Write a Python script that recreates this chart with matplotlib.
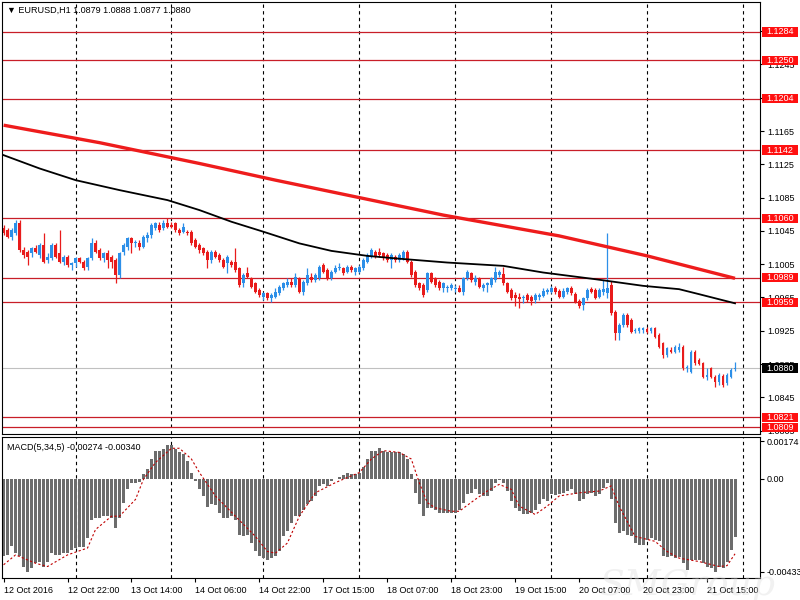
import numpy as np
import matplotlib
matplotlib.use('Agg')
import matplotlib.pyplot as plt
from matplotlib.patches import Rectangle

plt.rcParams['font.family'] = ['Liberation Sans', 'DejaVu Sans']
plt.rcParams['font.size'] = 6.5

# EURUSD H1 candles, bar 0 = 12 Oct 2016 06:00
opens = [
    1.1049, 1.1046, 1.1038, 1.1042, 1.1054, 1.1022, 1.1020, 1.1018, 1.1024, 1.1016,
    1.1028, 1.1010, 1.1012, 1.1028, 1.1018, 1.1008, 1.1014, 1.1004, 1.1006, 1.1012,
    1.1008, 1.1002, 1.1012, 1.1030, 1.1022, 1.1012, 1.1018, 1.1014, 1.1010, 1.0992,
    1.1020, 1.1026, 1.1036, 1.1030, 1.1030, 1.1026, 1.1036,
    1.1040, 1.1048, 1.1052, 1.1048, 1.1054, 1.1052, 1.1054, 1.1046, 1.1044, 1.1044,
    1.1044, 1.1034, 1.1028, 1.1024, 1.1020, 1.1010, 1.1020, 1.1016, 1.1010, 1.1006,
    1.1008, 1.1008, 1.1000, 1.0982, 1.0994, 1.0988, 1.0982, 1.0974, 1.0966, 1.0970,
    1.0964, 1.0966, 1.0970, 1.0976, 1.0980, 1.0984, 1.0980,
    1.0988, 1.0972, 1.0982, 1.0990, 1.0986, 1.0988, 1.1004, 1.0998, 1.0988, 1.0996,
    1.1000, 1.1000, 1.0996, 1.1002, 1.0996, 1.0996, 1.1000, 1.1008, 1.1014, 1.1020,
    1.1020, 1.1018, 1.1016, 1.1010, 1.1014, 1.1010, 1.1012, 1.1020, 1.1008, 1.0996,
    1.0982, 1.0980, 1.0974, 1.0994, 1.0988, 1.0984, 1.0976,
    1.0976, 1.0976, 1.0975, 1.0977, 1.0972, 1.0988, 1.0994, 1.0984, 1.0988, 1.0977,
    1.0980, 1.0980, 1.0986, 1.0992, 1.0993, 1.0982, 1.0974, 1.0968, 1.0966, 1.0964,
    1.0968, 1.0966, 1.0962, 1.0966, 1.0967, 1.0971, 1.0972, 1.0977, 1.0973, 1.0966,
    1.0971, 1.0977, 1.0969, 1.0961, 1.0956, 1.0964, 1.0975,
    1.0974, 1.0966, 1.0972, 1.0970, 1.0980, 1.0948, 1.0922, 1.0932, 1.0944, 1.0938,
    1.0925, 1.0925, 1.0926, 1.0927, 1.0925, 1.0928, 1.0920, 1.0910, 1.0896, 1.0902,
    1.0900, 1.0902, 1.0906, 1.0880, 1.0876, 1.0900, 1.0890, 1.0886, 1.0869, 1.0880,
    1.0870, 1.0863, 1.0871, 1.0862, 1.0870, 1.0879,
]
highs = [
    1.1052, 1.1048, 1.1048, 1.1058, 1.1058, 1.1026, 1.1022, 1.1026, 1.1028, 1.1030,
    1.1042, 1.1018, 1.1030, 1.1030, 1.1046, 1.1016, 1.1016, 1.1008, 1.1014, 1.1014,
    1.1010, 1.1014, 1.1036, 1.1034, 1.1024, 1.1020, 1.1022, 1.1016, 1.1012, 1.1020,
    1.1030, 1.1038, 1.1038, 1.1034, 1.1034, 1.1040, 1.1044,
    1.1054, 1.1056, 1.1056, 1.1058, 1.1060, 1.1056, 1.1056, 1.1048, 1.1054, 1.1046,
    1.1046, 1.1036, 1.1030, 1.1026, 1.1022, 1.1022, 1.1022, 1.1018, 1.1012, 1.1016,
    1.1010, 1.1024, 1.1002, 1.0994, 1.1002, 1.0990, 1.0984, 1.0976, 1.0972, 1.0972,
    1.0970, 1.0976, 1.0980, 1.0984, 1.0988, 1.0988, 1.0994,
    1.0990, 1.0986, 1.1000, 1.0994, 1.0994, 1.1004, 1.1006, 1.1000, 1.0998, 1.1004,
    1.1006, 1.1002, 1.1004, 1.1004, 1.1002, 1.1004, 1.1012, 1.1018, 1.1024, 1.1022,
    1.1024, 1.1020, 1.1018, 1.1018, 1.1016, 1.1018, 1.1022, 1.1022, 1.1010, 1.0998,
    1.0984, 1.0982, 1.0996, 1.0996, 1.0990, 1.0986, 1.0984,
    1.0980, 1.0982, 1.0980, 1.0980, 1.0990, 1.0998, 1.0996, 1.0992, 1.0990, 1.0982,
    1.0984, 1.0990, 1.1002, 1.0998, 1.1002, 1.0984, 1.0976, 1.0971, 1.0970, 1.0968,
    1.0970, 1.0968, 1.0970, 1.0970, 1.0976, 1.0976, 1.0979, 1.0979, 1.0975, 1.0976,
    1.0978, 1.0979, 1.0971, 1.0963, 1.0966, 1.0976, 1.0978,
    1.0977, 1.0976, 1.0986, 1.1042, 1.0985, 1.0950, 1.0934, 1.0946, 1.0946, 1.0940,
    1.0928, 1.0930, 1.0930, 1.0930, 1.0930, 1.0930, 1.0922, 1.0912, 1.0906, 1.0906,
    1.0908, 1.0910, 1.0908, 1.0884, 1.0902, 1.0902, 1.0892, 1.0888, 1.0880, 1.0882,
    1.0872, 1.0874, 1.0873, 1.0874, 1.0880, 1.0888,
]
lows = [
    1.1040, 1.1036, 1.1034, 1.1040, 1.1020, 1.1012, 1.1004, 1.1014, 1.1018, 1.1012,
    1.1006, 1.1006, 1.1010, 1.1012, 1.1006, 1.1004, 1.1002, 1.0998, 1.1002, 1.1006,
    1.0998, 1.0998, 1.1010, 1.1018, 1.1010, 1.1008, 1.1000, 1.1000, 1.0982, 1.0988,
    1.1016, 1.1022, 1.1018, 1.1026, 1.1022, 1.1024, 1.1032,
    1.1036, 1.1046, 1.1044, 1.1046, 1.1048, 1.1048, 1.1044, 1.1040, 1.1042, 1.1040,
    1.1028, 1.1024, 1.1018, 1.1016, 1.1000, 1.1006, 1.1012, 1.1008, 1.1000, 1.0994,
    1.1002, 1.0996, 1.0978, 1.0978, 1.0988, 1.0976, 1.0970, 1.0966, 1.0962, 1.0962,
    1.0960, 1.0964, 1.0968, 1.0974, 1.0978, 1.0978, 1.0978,
    1.0970, 1.0968, 1.0980, 1.0984, 1.0984, 1.0986, 1.0994, 1.0986, 1.0986, 1.0994,
    1.0998, 1.0992, 1.0994, 1.0996, 1.0992, 1.0994, 1.0998, 1.1006, 1.1012, 1.1012,
    1.1014, 1.1010, 1.1008, 1.1000, 1.1008, 1.1008, 1.1010, 1.1006, 1.0990, 1.0978,
    1.0974, 1.0966, 1.0972, 1.0982, 1.0978, 1.0974, 1.0972,
    1.0972, 1.0974, 1.0971, 1.0971, 1.0968, 1.0986, 1.0984, 1.0980, 1.0976, 1.0973,
    1.0972, 1.0978, 1.0984, 1.0990, 1.0980, 1.0970, 1.0962, 1.0955, 1.0952, 1.0958,
    1.0960, 1.0956, 1.0958, 1.0962, 1.0965, 1.0969, 1.0970, 1.0969, 1.0964, 1.0964,
    1.0969, 1.0968, 1.0958, 1.0952, 1.0950, 1.0962, 1.0970,
    1.0963, 1.0964, 1.0968, 1.0964, 1.0944, 1.0914, 1.0914, 1.0930, 1.0930, 1.0922,
    1.0922, 1.0922, 1.0922, 1.0922, 1.0922, 1.0916, 1.0904, 1.0892, 1.0894, 1.0898,
    1.0898, 1.0900, 1.0878, 1.0876, 1.0874, 1.0884, 1.0884, 1.0868, 1.0866, 1.0868,
    1.0858, 1.0860, 1.0858, 1.0860, 1.0868, 1.0877,
]
closes = [
    1.1042, 1.1038, 1.1046, 1.1054, 1.1022, 1.1016, 1.1014, 1.1024, 1.1020, 1.1028,
    1.1008, 1.1014, 1.1028, 1.1014, 1.1008, 1.1014, 1.1004, 1.1006, 1.1012, 1.1008,
    1.1000, 1.1012, 1.1030, 1.1020, 1.1012, 1.1018, 1.1010, 1.1008, 1.0992, 1.1018,
    1.1028, 1.1036, 1.1030, 1.1032, 1.1026, 1.1038, 1.1040,
    1.1052, 1.1054, 1.1046, 1.1054, 1.1050, 1.1050, 1.1046, 1.1042, 1.1050, 1.1042,
    1.1030, 1.1026, 1.1022, 1.1018, 1.1010, 1.1020, 1.1014, 1.1010, 1.1002, 1.1014,
    1.1004, 1.0998, 1.0980, 1.0992, 1.0990, 1.0978, 1.0972, 1.0968, 1.0970, 1.0964,
    1.0968, 1.0972, 1.0978, 1.0982, 1.0984, 1.0980, 1.0990,
    1.0972, 1.0984, 1.0992, 1.0986, 1.0992, 1.1002, 1.0996, 1.0988, 1.0996, 1.1000,
    1.1002, 1.0994, 1.1002, 1.0998, 1.1000, 1.1002, 1.1010, 1.1016, 1.1022, 1.1014,
    1.1016, 1.1012, 1.1010, 1.1016, 1.1010, 1.1016, 1.1020, 1.1008, 1.0992, 1.0980,
    1.0976, 1.0968, 1.0994, 1.0984, 1.0980, 1.0976, 1.0982,
    1.0978, 1.0980, 1.0977, 1.0972, 1.0988, 1.0996, 1.0986, 1.0989, 1.0978, 1.0980,
    1.0982, 1.0988, 1.0996, 1.0996, 1.0982, 1.0971, 1.0964, 1.0964, 1.0963, 1.0966,
    1.0962, 1.0961, 1.0968, 1.0968, 1.0973, 1.0974, 1.0977, 1.0971, 1.0965, 1.0973,
    1.0977, 1.0970, 1.0960, 1.0955, 1.0964, 1.0974, 1.0972,
    1.0964, 1.0974, 1.0975, 1.0976, 1.0946, 1.0922, 1.0932, 1.0944, 1.0932, 1.0924,
    1.0926, 1.0928, 1.0928, 1.0924, 1.0928, 1.0918, 1.0906, 1.0896, 1.0904, 1.0900,
    1.0906, 1.0906, 1.0880, 1.0882, 1.0900, 1.0886, 1.0885, 1.0870, 1.0872, 1.0870,
    1.0863, 1.0872, 1.0860, 1.0872, 1.0878, 1.0880,
]

# moving averages (bar index, price)
ma_red_x = [0, 24, 49, 68, 92, 110, 139, 161, 183]
ma_red = [1.1172, 1.1151, 1.1126, 1.1106, 1.1082, 1.1064, 1.1039, 1.1015, 1.0988]
ma_black_x = [0, 9, 18, 29, 41, 49, 57, 65, 74, 82, 91, 98, 111, 125, 135, 148, 160, 169, 174, 183]
ma_black = [1.1136, 1.1120, 1.1106, 1.1094, 1.1082, 1.1070, 1.1056, 1.1044, 1.1030, 1.1021,
            1.1015, 1.1012, 1.1007, 1.1003, 1.0995, 1.0987, 1.0979, 1.0975, 1.0969, 1.0958]

# horizontal levels
levels = [1.1284, 1.1250, 1.1204, 1.1142, 1.1060, 1.0989, 1.0959, 1.0821, 1.0809]
last_price = 1.0880

# MACD(5,34,5) histogram
macd_hist = [
    -0.00362, -0.00355, -0.00312, -0.00347, -0.00362, -0.00409, -0.00433, -0.00417, -0.00394, -0.00386,
    -0.00409, -0.00386, -0.00347, -0.00355, -0.00355, -0.00347, -0.00347, -0.00331, -0.00323, -0.00316,
    -0.00319, -0.00276, -0.00191, -0.00183, -0.00183, -0.00175, -0.00175, -0.00183, -0.00230, -0.00183,
    -0.00112, -0.00050, -0.00019, -0.00019, -0.00016, 0.00020, 0.00044, 0.00091, 0.00130, 0.00130,
    0.00137, 0.00156, 0.00156, 0.00137, 0.00122, 0.00114, 0.00083, 0.00028, -0.00011, -0.00050,
    -0.00081, -0.00131, -0.00120, -0.00125, -0.00159, -0.00183, -0.00183, -0.00175, -0.00191, -0.00261,
    -0.00269, -0.00261, -0.00300, -0.00339, -0.00359, -0.00370, -0.00378, -0.00370, -0.00362, -0.00339,
    -0.00269, -0.00245, -0.00206, -0.00175, -0.00175, -0.00144, -0.00120, -0.00105, -0.00081, -0.00034,
    -0.00027, -0.00034, -0.00011, -0.00003, 0.00009, 0.00016, 0.00028, 0.00020, 0.00020, 0.00028,
    0.00052, 0.00091, 0.00130, 0.00130, 0.00141, 0.00130, 0.00122, 0.00122, 0.00122, 0.00122,
    0.00114, 0.00091, 0.00020, -0.00066, -0.00120, -0.00175, -0.00136, -0.00136, -0.00144, -0.00159,
    -0.00159, -0.00159, -0.00159, -0.00159, -0.00144, -0.00112, -0.00073, -0.00066, -0.00050, -0.00073,
    -0.00081, -0.00081, -0.00058, -0.00019, -0.00006, -0.00019, -0.00058, -0.00105, -0.00136, -0.00152,
    -0.00167, -0.00167, -0.00159, -0.00144, -0.00120, -0.00097, -0.00105, -0.00073, -0.00078, -0.00073,
    -0.00066, -0.00058, -0.00050, -0.00073, -0.00105, -0.00097, -0.00073, -0.00069, -0.00081, -0.00073,
    -0.00042, -0.00019, -0.00097, -0.00206, -0.00253, -0.00245, -0.00261, -0.00269, -0.00300, -0.00308,
    -0.00308, -0.00284, -0.00276, -0.00284, -0.00292, -0.00362, -0.00366, -0.00362, -0.00370, -0.00366,
    -0.00394, -0.00425, -0.00378, -0.00378, -0.00378, -0.00391, -0.00409, -0.00417, -0.00433, -0.00409,
    -0.00417, -0.00386, -0.00331, -0.00274,
]
signal_x = [0, 3, 8, 11, 16, 21, 23, 27, 29, 33, 35, 38, 42, 44, 47, 49, 53, 58, 63, 66, 68, 71,
            74, 78, 83, 86, 89, 92, 95, 99, 102, 104, 106, 108, 112, 114, 118, 121, 124, 127,
            129, 133, 136, 139, 144, 149, 152, 154, 158, 163, 166, 169, 174, 179, 181, 183]
signal = [-0.00401, -0.00355, -0.00394, -0.00409, -0.00355, -0.00323, -0.00237, -0.00175, -0.00175,
          -0.00097, -0.00003, 0.00075, 0.00141, 0.00141, 0.00091, 0.00028, -0.00081, -0.00175,
          -0.00269, -0.00339, -0.00347, -0.00300, -0.00175, -0.00066, -0.00019, 0.00005, 0.00028,
          0.00091, 0.00130, 0.00122, 0.00091, -0.00019, -0.00112, -0.00136, -0.00152, -0.00152,
          -0.00097, -0.00058, -0.00027, -0.00050, -0.00128, -0.00167, -0.00128, -0.00081, -0.00066,
          -0.00058, -0.00034, -0.00128, -0.00269, -0.00292, -0.00339, -0.00370, -0.00386, -0.00409,
          -0.00405, -0.00350]

tick_bars = [0, 16, 32, 48, 64, 80, 96, 112, 128, 144, 160, 176]
tick_labels = ['12 Oct 2016', '12 Oct 22:00', '13 Oct 14:00', '14 Oct 06:00', '14 Oct 22:00',
               '17 Oct 15:00', '18 Oct 07:00', '18 Oct 23:00', '19 Oct 15:00', '20 Oct 07:00',
               '20 Oct 23:00', '21 Oct 15:00']
day_starts = [18, 42, 65, 89, 113, 137, 161, 185]

bull = '#2c8fe8'
bear = '#e81b1b'
level_red = '#c81e28'

o = np.array(opens)
h = np.array(highs)
l = np.array(lows)
c = np.array(closes)
idx = np.arange(len(c))

fig = plt.figure(figsize=(8, 6), dpi=100)
fig.patch.set_facecolor('white')
ax = fig.add_axes([2 / 800, 1 - 434 / 600, 758 / 800, 432 / 600])
axm = fig.add_axes([2 / 800, 1 - 578 / 600, 758 / 800, 141 / 600], sharex=ax)

# --- price panel ---
for d in day_starts:
    ax.axvline(d, color='black', lw=0.8, ls=(0, (3, 3)), zorder=0.5)
    axm.axvline(d, color='black', lw=0.8, ls=(0, (3, 3)), zorder=0.5)

for lv in levels:
    ax.axhline(lv, color=level_red, lw=0.9, zorder=1)
ax.axhline(last_price, color='#c0c0c0', lw=0.8, zorder=1)

colors = np.where(c >= o, bull, bear)
ax.vlines(idx, l, h, colors=colors, lw=0.9, zorder=2)
body = np.maximum(np.abs(c - o), 0.00003)
ax.bar(idx, body, bottom=np.minimum(o, c), width=0.7, color=colors, linewidth=0, zorder=2.2)

ax.plot(ma_black_x, ma_black, color='black', lw=1.3, zorder=3)
ax.plot(ma_red_x, ma_red, color='#ee1c1c', lw=2.4, zorder=3, solid_capstyle='butt')

ax.set_xlim(-0.4, 189.25)
ax.set_ylim(1.0801, 1.1320)
ax.yaxis.tick_right()
ax.set_yticks(np.arange(1.0805, 1.1300, 0.004))
ax.set_yticklabels(['%.4f' % v for v in np.arange(1.0805, 1.1300, 0.004)])
ax.tick_params(axis='y', direction='out', length=3, width=0.8, pad=2, labelsize=6.5)
ax.tick_params(axis='x', bottom=False, labelbottom=False)

# price label boxes on the right scale
box_w = 36 / 758
box_h = 0.00057
trans = ax.get_yaxis_transform()
for lv in levels + [last_price]:
    fc = 'black' if lv == last_price else '#ff1010'
    ax.add_patch(Rectangle((1.0026, lv - box_h), box_w, 2 * box_h, transform=trans,
                           facecolor=fc, edgecolor='none', clip_on=False, zorder=5))
    ax.text(1.0026 + box_w / 2, lv, '%.4f' % lv, transform=trans, color='white',
            ha='center', va='center', fontsize=6.5, clip_on=False, zorder=6)

# --- MACD panel ---
axm.bar(idx, macd_hist, width=0.75, color='#6c6c6c', linewidth=0, zorder=2)
axm.plot(signal_x, signal, color='#c00000', lw=0.8, ls=(0, (2, 2)), zorder=3)
axm.set_ylim(-0.004625, 0.001935)
axm.yaxis.tick_right()
axm.set_yticks([0.00174, 0.0, -0.00433])
axm.set_yticklabels(['0.00174', '0.00', '-0.00433'])
axm.tick_params(axis='y', direction='out', length=3, width=0.8, pad=2, labelsize=6.5)
axm.set_xticks(tick_bars)
axm.set_xticklabels(tick_labels)
axm.tick_params(axis='x', direction='out', length=3, width=0.8, pad=3, labelsize=6.5)
for lab in axm.get_xticklabels():
    lab.set_ha('left')

for a in (ax, axm):
    for sp in a.spines.values():
        sp.set_color('black')
        sp.set_linewidth(0.8)
    a.set_facecolor('white')

fig.text(7 / 800, 1 - 10 / 600, '\u25bc EURUSD,H1 1.0879 1.0888 1.0877 1.0880',
         ha='left', va='center', fontsize=6.5, color='black')
fig.text(7 / 800, 1 - 447 / 600, 'MACD(5,34,5) -0.00274 -0.00340',
         ha='left', va='center', fontsize=6.5, color='black')

# faint watermark
fig.text(0.86, 0.025, 'SMGroup', ha='center', va='center', fontsize=26,
         style='italic', family='DejaVu Serif', color='#dcdcdc', alpha=0.4, zorder=10)

fig.savefig('out.png', dpi=100, facecolor='white')
